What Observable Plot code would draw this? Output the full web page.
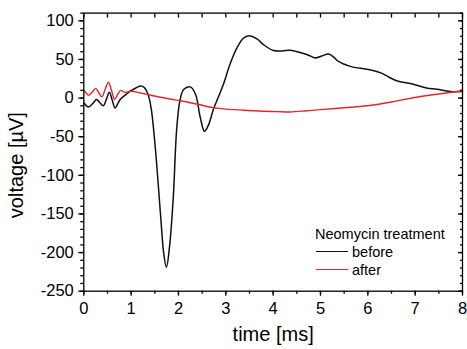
<!DOCTYPE html>
<html>
<head>
<meta charset="utf-8">
<script src="https://cdn.jsdelivr.net/npm/d3@7"></script>
<script src="https://cdn.jsdelivr.net/npm/@observablehq/plot@0.6"></script>
<style>
  html, body { margin: 0; padding: 0; background: white; }
  #wrap { position: relative; width: 467px; height: 349px; font-family: "Liberation Sans", Arial, sans-serif; color: black; }
  .lg { position: absolute; font-size: 14.5px; line-height: 18px; white-space: nowrap; }
  .lgline { position: absolute; width: 32px; height: 0; }
</style>
</head>
<body>
<div id="wrap"></div>
<script>
// time [ms] and voltage [µV] samples
const beforeT = [0, 0.1, 0.19, 0.27, 0.34, 0.41, 0.48, 0.54, 0.6, 0.66, 0.72, 0.78, 0.9, 1.0, 1.1, 1.2, 1.28, 1.35, 1.42, 1.51, 1.62, 1.69, 1.745, 1.81, 1.89, 1.96, 2.03, 2.11, 2.25, 2.36, 2.46, 2.55, 2.64, 2.74, 2.81, 2.95, 3.09, 3.24, 3.38, 3.52, 3.66, 3.8, 4.01, 4.19, 4.36, 4.57, 4.75, 4.89, 5.03, 5.17, 5.28, 5.38, 5.63, 6.01, 6.26, 6.45, 6.61, 6.96, 7.24, 7.46, 7.74, 8];
const beforeV = [-6, -11.5, -7, -2, -6, -10, -1, 7.5, -2.5, -13, -7, -1, 5, 9.5, 13, 15.5, 13.5, 6, -12, -64, -150, -202, -219, -193, -129, -42, -3.5, 11, 14.5, 5, -25, -43, -34, -14, -3.5, 18, 44, 65.5, 78, 80.5, 76.5, 69, 61.5, 61, 62, 59, 55.5, 52, 54.5, 57, 53, 47.5, 41, 37, 33, 27, 22.5, 18, 13, 11.5, 8.6, 8.5];
const afterT = [0, 0.05, 0.1, 0.17, 0.25, 0.31, 0.38, 0.45, 0.52, 0.585, 0.65, 0.72, 0.78, 0.88, 0.95, 1.05, 1.2, 1.4, 1.62, 1.85, 2.04, 2.25, 2.46, 2.65, 2.81, 3.0, 3.38, 3.7, 4.08, 4.35, 4.71, 5.0, 5.5, 5.98, 6.5, 6.96, 7.46, 8];
const afterV = [10, 6.5, 3.5, 7, 12.5, 7.5, 1.5, 11, 20.5, 10, -1.5, 5, 10, 7, 8.5, 8.5, 6.5, 4, 1, -1.5, -3.5, -6, -8.7, -11.5, -13, -14.3, -15.7, -16.8, -17.5, -18, -16.5, -15, -12.5, -10, -5, 0.5, 5, 9.5];
const series = ["before", "after"];
const colors = ["#111111", "#e3262b"];
const legendTitle = "Neomycin treatment";
const xTicks = [0, 1, 2, 3, 4, 5, 6, 7, 8];
const xMinor = d3.range(0, 8.01, 0.5);
const yTicks = [-250, -200, -150, -100, -50, 0, 50, 100];
const yMinor = d3.range(-250, 110.1, 10);

const before = beforeT.map((t, i) => ({t, v: beforeV[i]}));
const after = afterT.map((t, i) => ({t, v: afterV[i]}));
const blank = () => "";
const plain = d => String(d);

const chart = Plot.plot({
  width: 467,
  height: 349,
  marginLeft: 83.3,
  marginRight: 5,
  marginTop: 12.6,
  marginBottom: 58.3,
  style: {fontFamily: "'Liberation Sans', Arial, sans-serif", color: "black", background: "white", overflow: "visible"},
  x: {domain: [0, 8], label: null},
  y: {domain: [-250, 110], label: null},
  marks: [
    Plot.line(before, {x: "t", y: "v", stroke: colors[0], strokeWidth: 1.5, curve: "catmull-rom"}),
    Plot.line(after, {x: "t", y: "v", stroke: colors[1], strokeWidth: 1.4, curve: "catmull-rom"}),
    Plot.frame({stroke: "black", strokeWidth: 1.3}),
    Plot.axisX({ticks: xTicks, tickSize: 5, tickPadding: 6, fontSize: 16.5, tickFormat: plain, label: null, strokeWidth: 1.3}),
    Plot.axisX({ticks: xMinor, tickSize: 3, tickFormat: blank, label: null, strokeWidth: 1.3}),
    Plot.axisX({anchor: "top", ticks: xMinor, tickSize: 4, dy: 4, tickFormat: blank, label: null, strokeWidth: 1.3}),
    Plot.axisY({ticks: yTicks, tickSize: 5, tickPadding: 5, fontSize: 16.5, tickFormat: plain, label: null, strokeWidth: 1.3}),
    Plot.axisY({ticks: yMinor, tickSize: 3, tickFormat: blank, label: null, strokeWidth: 1.3}),
    Plot.axisY({anchor: "right", ticks: yTicks, tickSize: 5, dx: -5, tickFormat: blank, label: null, strokeWidth: 1.3}),
    Plot.axisY({anchor: "right", ticks: yMinor, tickSize: 3, dx: -3, tickFormat: blank, label: null, strokeWidth: 1.3}),
    Plot.text(["time [ms]"], {frameAnchor: "bottom", text: d => d, textAnchor: "middle", lineAnchor: "middle", dy: 43, fontSize: 20, fill: "black"}),
    Plot.text(["voltage [µV]"], {frameAnchor: "left", text: d => d, textAnchor: "middle", lineAnchor: "middle", rotate: -90, dx: -67, dy: 13, fontSize: 20, fill: "black"})
  ]
});

const wrap = document.getElementById("wrap");
wrap.appendChild(chart);

// legend inside the plot area (bottom right)
const title = document.createElement("div");
title.className = "lg";
title.style.left = "315px";
title.style.top = "225px";
title.textContent = legendTitle;
wrap.appendChild(title);
series.forEach((s, i) => {
  const top = 243 + i * 18;
  const ln = document.createElement("div");
  ln.className = "lgline";
  ln.style.left = "315.7px";
  ln.style.top = (top + 8.2) + "px";
  ln.style.borderTop = "1.4px solid " + colors[i];
  wrap.appendChild(ln);
  const tx = document.createElement("div");
  tx.className = "lg";
  tx.style.left = "352px";
  tx.style.top = top + "px";
  tx.textContent = s;
  wrap.appendChild(tx);
});
</script>
</body>
</html>
